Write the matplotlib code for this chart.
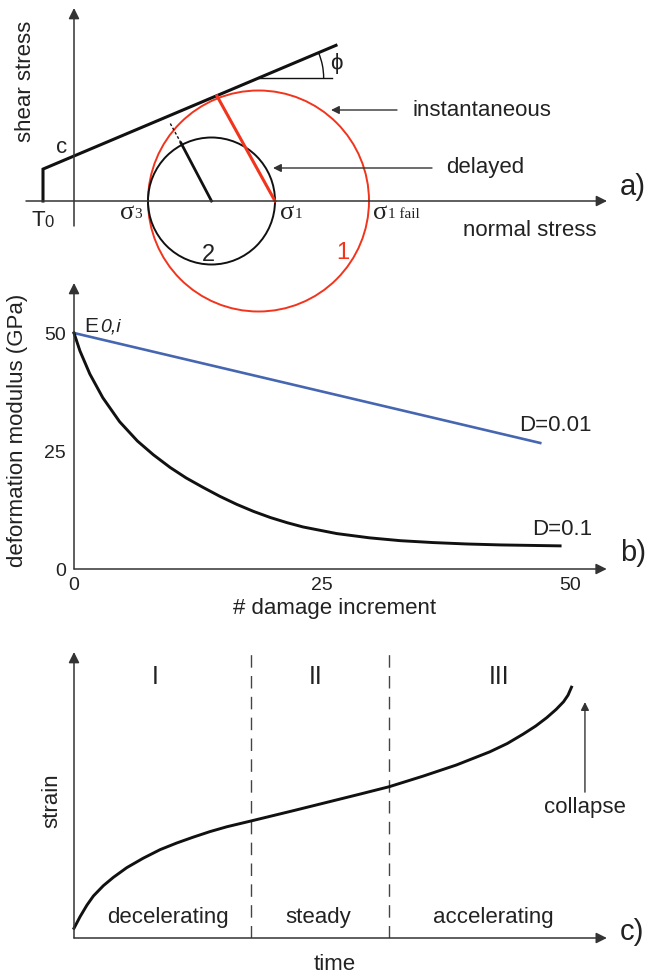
import numpy as np
import matplotlib
matplotlib.use('Agg')
from matplotlib import pyplot as plt
from matplotlib.patches import Circle, Arc

plt.rcParams['font.family'] = ['Liberation Sans', 'DejaVu Sans']

### a) Mohr-Coulomb, stress units
T0 = -3.1            # tensile cut-off
cohesion = 4.5
phi_deg = 22.9
sigma3 = 7.4
sigma1 = 20.1        # delayed failure
sigma1_fail = 29.5   # instantaneous failure
env_end = 26.2       # last normal stress drawn on the envelope
tangent_pt = (14.3, 10.5)
delayed_radius = [(13.75, 0.0), (10.7, 5.8)]
delayed_dash = [(10.7, 5.8), (9.6, 7.8)]

### b) deformation modulus vs damage increment
n_slow = [0, 47]
E_slow = [50, 26.7]
n_fast = [0, 0.6, 1.6, 2.9, 4.6, 6.4, 8.0, 9.7, 11.3, 13.0, 14.7, 16.4, 18.1, 19.8,
          21.5, 23.1, 26.5, 29.8, 32.9, 36.2, 39.6, 43.0, 46.0, 49.0]
E_fast = [50, 46.2, 41.3, 36.3, 31.2, 27.1, 24.2, 21.5, 19.3, 17.3, 15.4, 13.7, 12.2, 10.9,
          9.8, 8.9, 7.5, 6.6, 6.0, 5.6, 5.3, 5.1, 5.0, 4.9]

### c) creep curve
t_creep = [0, 1.2, 2.6, 3.9, 5.9, 7.9, 10.6, 13.9, 17.3, 20.6, 24.0, 27.3, 30.7, 35.5, 44.0,
           50.7, 57.4, 63.3, 70.1, 76.8, 83.5, 87.0, 90.2, 92.7, 94.9, 96.8, 98.3, 99.2, 99.9]
eps_creep = [3.4, 7.4, 11.5, 14.7, 18.3, 21.2, 24.6, 27.9, 30.9, 33.2, 35.3, 37.2, 38.9, 40.9, 44.5,
             47.4, 50.3, 52.9, 56.6, 60.5, 65.1, 68.0, 71.3, 74.1, 77.0, 79.9, 82.6, 84.9, 87.7]
stage_bounds = [35.5, 63.3]
stage_names = ['I', 'II', 'III']
stage_x = [16.3, 48.6, 85.3]
stage_rates = ['decelerating', 'steady', 'accelerating']
rate_x = [18.9, 49.0, 84.1]

AX = '#333333'
TXT = '#222222'
RED = '#f2341c'
BLUE = '#4666b2'
FS = 16

W, H = 647, 980
fig = plt.figure(figsize=(W / 100, H / 100), dpi=100)


def arrow(ax, x0, y0, x1, y1, ms=16, lw=1.1, color=AX):
    ax.annotate('', xy=(x1, y1), xytext=(x0, y0), annotation_clip=False,
                arrowprops=dict(arrowstyle='-|>', mutation_scale=ms, lw=lw,
                                color=color, shrinkA=0, shrinkB=0))


def sig(ax, x, y, sub, subsize=11):
    ax.text(x, y, 'σ', family='Liberation Serif', fontsize=19, color=TXT,
            ha='center', va='center')
    ax.text(x + 0.75, y - 0.1, sub, family='Liberation Serif', fontsize=subsize,
            color=TXT, ha='left', va='center')


# ---------------- a) ----------------
ax = fig.add_axes([0, 1 - 330 / H, 1, 330 / H])
ax.set_xlim(-7.4, 57.3)
ax.set_ylim(-12.9, 20.1)
ax.axis('off')

arrow(ax, 0, -2.5, 0, 19.3)
arrow(ax, -4.8, 0, 53.3, 0)

tanp = np.tan(np.radians(phi_deg))
ax.plot([T0, T0, env_end], [0, cohesion + tanp * T0, cohesion + tanp * env_end],
        color='#111111', lw=2.2, solid_joinstyle='miter')
tau_ref = 12.3
s_ref = (tau_ref - cohesion) / tanp
ax.plot([s_ref, 25.8], [tau_ref, tau_ref], color='#111111', lw=1.0)
ax.add_patch(Arc((s_ref, tau_ref), 13, 13, theta1=0, theta2=phi_deg, color='#111111', lw=1.0))

c_fail = (sigma3 + sigma1_fail) / 2
c_del = (sigma3 + sigma1) / 2
ax.add_patch(Circle((c_fail, 0), (sigma1_fail - sigma3) / 2, fill=False, ec=RED, lw=1.4))
ax.add_patch(Circle((c_del, 0), (sigma1 - sigma3) / 2, fill=False, ec='#111111', lw=1.4))
ax.plot([sigma1, tangent_pt[0]], [0, tangent_pt[1]], color=RED, lw=2.2)
ax.plot(*zip(*delayed_radius), color='#111111', lw=2.0)
ax.plot(*zip(*delayed_dash), color='#111111', lw=1.0, ls=(0, (2, 1.5)))

arrow(ax, 32.3, 9.1, 25.7, 9.1, ms=12, lw=1.0)
arrow(ax, 35.8, 3.3, 19.9, 3.3, ms=12, lw=1.0)

ax.text(-4.8, 12.0, 'shear stress', rotation=90, fontsize=FS, color=TXT, ha='center', va='center')
ax.text(-1.2, 5.4, 'c', fontsize=FS, color=TXT, ha='center', va='center')
ax.text(-3.6, -1.9, 'T', fontsize=FS, color=TXT, ha='center', va='center')
ax.text(-2.95, -2.1, '0', fontsize=12, color=TXT, ha='left', va='center')
sig(ax, 5.3, -1.2, '3')
sig(ax, 21.3, -1.2, '1')
sig(ax, 30.6, -1.2, '1 fail')
ax.text(45.6, -2.9, 'normal stress', fontsize=FS, color=TXT, ha='center', va='center')
ax.text(33.8, 9.1, 'instantaneous', fontsize=FS, color=TXT, ha='left', va='center')
ax.text(37.2, 3.4, 'delayed', fontsize=FS, color=TXT, ha='left', va='center')
ax.text(13.4, -5.4, '2', fontsize=FS + 1, color=TXT, ha='center', va='center')
ax.text(26.9, -5.2, '1', fontsize=FS + 1, color=RED, ha='center', va='center')
ax.text(26.2, 13.8, 'ϕ', fontsize=FS, color=TXT, ha='center', va='center')
ax.text(54.6, 1.4, 'a)', fontsize=21, color=TXT, ha='left', va='center')

# ---------------- b) ----------------
ax = fig.add_axes([74 / W, 1 - 569 / H, 496 / W, 236 / H])
ax.set_xlim(0, 50)
ax.set_ylim(0, 50)
ax.patch.set_visible(False)
for s in ax.spines.values():
    s.set_visible(False)
ax.set_xticks([0, 25, 50])
ax.set_yticks([0, 25, 50])
ax.tick_params(length=0, labelsize=14, labelcolor=TXT, pad=6)
arrow(ax, 0, 0, 0, 60.6)
arrow(ax, 0, 0, 53.7, 0)

ax.plot(n_slow, E_slow, color=BLUE, lw=1.9, clip_on=False)
ax.plot(n_fast, E_fast, color='#111111', lw=2.1, clip_on=False,
        solid_joinstyle='round')

ax.text(1.7, 51.3, 'E', fontsize=15, color=TXT, ha='center', va='center')
ax.text(2.6, 51.3, '0,i', fontsize=14, style='italic', color=TXT, ha='left', va='center')
ax.text(48.5, 30.5, 'D=0.01', fontsize=FS, color=TXT, ha='center', va='center')
ax.text(49.2, 8.3, 'D=0.1', fontsize=FS, color=TXT, ha='center', va='center')
ax.text(55.0, 3.4, 'b)', fontsize=21, color=TXT, ha='left', va='center')
ax.text(26.3, -8.3, '# damage increment', fontsize=FS, color=TXT, ha='center', va='center')
ax.text(-5.7, 29.4, 'deformation modulus (GPa)', rotation=90, fontsize=FS, color=TXT,
        ha='center', va='center')

# ---------------- c) ----------------
ax = fig.add_axes([74 / W, 1 - 938 / H, 498 / W, 286 / H])
ax.set_xlim(0, 100)
ax.set_ylim(0, 100)
ax.axis('off')
arrow(ax, 0, 0, 0, 100)
arrow(ax, 0, 0, 107, 0)
for b in stage_bounds:
    ax.plot([b, b], [0, 100], color='#444444', lw=1.0, ls=(0, (9, 6)))
ax.plot(t_creep, eps_creep, color='#111111', lw=2.1, clip_on=False,
        solid_joinstyle='round')
arrow(ax, 102.6, 51, 102.6, 82.5, ms=12, lw=1.0)

for x, name in zip(stage_x, stage_names):
    ax.text(x, 91.3, name, fontsize=FS + 2, color=TXT, ha='center', va='center')
for x, name in zip(rate_x, stage_rates):
    ax.text(x, 7.3, name, fontsize=FS, color=TXT, ha='center', va='center')
ax.text(102.6, 45.5, 'collapse', fontsize=FS, color=TXT, ha='center', va='center')
ax.text(52.4, -9.4, 'time', fontsize=FS, color=TXT, ha='center', va='center')
ax.text(-4.4, 47.9, 'strain', rotation=90, fontsize=FS, color=TXT, ha='center', va='center')
ax.text(109.6, 2.1, 'c)', fontsize=21, color=TXT, ha='left', va='center')

fig.savefig('out.png', dpi=100)
